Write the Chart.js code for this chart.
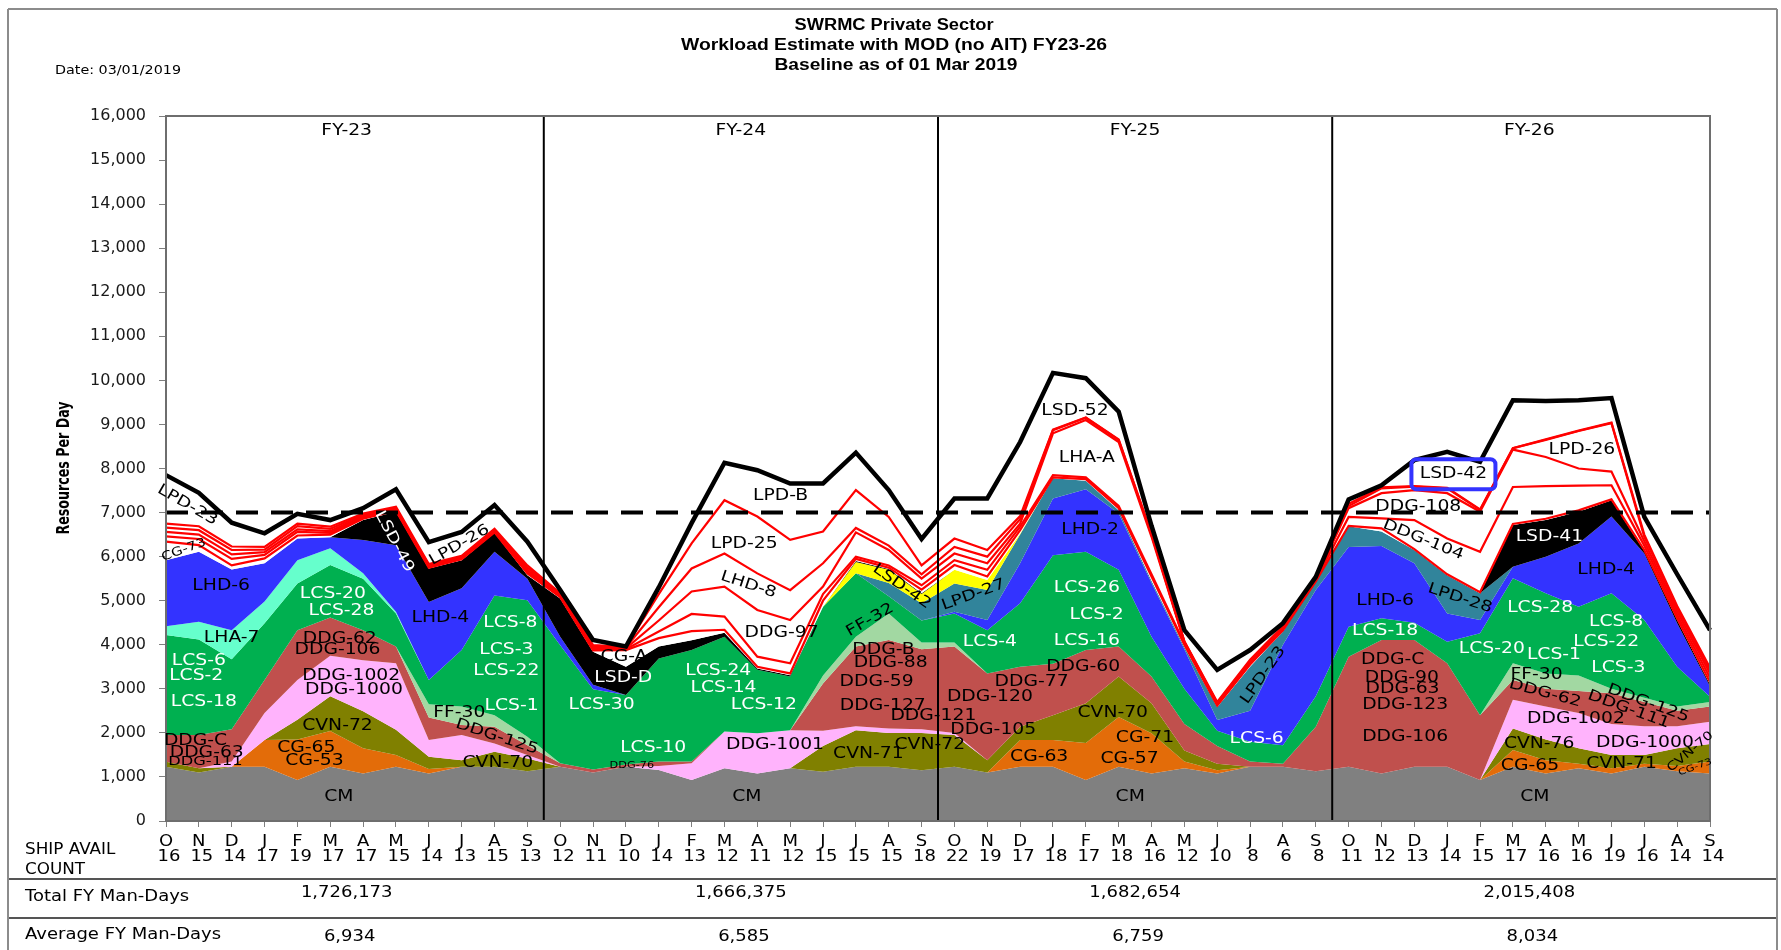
<!DOCTYPE html>
<html>
<head>
<meta charset="utf-8">
<script src="https://cdn.jsdelivr.net/npm/chart.js@4.4.1/dist/chart.umd.min.js"></script>
<style>
  html, body { margin: 0; padding: 0; background: #fff; }
  canvas { display: block; }
</style>
</head>
<body>
<canvas id="chart" width="1781" height="950"></canvas>
<script>
// categories
const months = ['O','N','D','J','F','M','A','M','J','J','A','S'];
const fiscalYears = ['FY-23','FY-24','FY-25','FY-26'];
const shipAvailCount = [16,15,14,17,19,17,17,15,14,13,15,13, 12,11,10,14,13,12,11,12,15,15,15,18,
                        22,19,17,18,17,18,16,12,10,8,6,8, 11,12,13,14,15,17,16,16,19,16,14,14];
const totalManDays = ['1,726,173','1,666,375','1,682,654','2,015,408'];
const averageManDays = ['6,934','6,585','6,759','8,034'];
const capacity = 7000;

// top edge of each band (resources per day), FY23..FY26
const cmTop   = [1230,1100,1230,1230,930,1230,1080,1230,1080,1230,1230,1130, 1230,1100,1230,1160,930,1200,1080,1200,1120,1230,1230,1150,
                 1230,1100,1230,1230,930,1230,1080,1200,1080,1230,1230,1130, 1230,1080,1230,1230,930,1230,1080,1200,1080,1230,1130,1080];
const cgTop   = [1230,1100,1230,1840,1850,2040,1650,1500,1180,1230,1230,1130, 1230,1100,1230,1160,930,1200,1080,1200,1120,1230,1230,1150,
                 1230,1100,1840,1840,1770,2360,1990,1350,1150,1230,1230,1130, 1230,1080,1230,1230,930,1610,1380,1300,1200,1300,1250,1350];
const cvnTop  = [1345,1200,1230,1840,2300,2830,2490,2070,1460,1380,1570,1420, 1230,1100,1230,1160,930,1200,1080,1200,1700,2060,2000,2000,
                 1950,1380,2140,2400,2670,3280,2670,1600,1300,1230,1230,1130, 1230,1080,1230,1230,930,2100,1850,1650,1500,1500,1650,1750];
const pinkTop = [1345,1200,1350,2450,3200,3750,3650,3580,1840,1950,1760,1500, 1230,1100,1230,1250,1310,2030,1990,2060,2050,2150,2100,2080,
                 2000,1380,2140,2400,2670,3280,2670,1600,1300,1230,1230,1130, 1230,1080,1230,1230,930,2750,2600,2450,2200,2150,2150,2250];
const ddgTop  = [1950,1950,2080,3200,4330,4620,4330,3960,2350,2180,2140,1720, 1310,1170,1280,1350,1350,2030,1990,2060,3120,3960,4110,3900,
                 3960,3350,3500,3570,3880,3960,3280,2200,1700,1350,1300,2140, 3730,4110,4110,3580,2400,3200,3000,2950,2900,2700,2500,2600];
const ffTop   = [1950,1950,2080,3200,4330,4620,4330,3960,2650,2600,2400,1910, 1310,1170,1280,1350,1350,2030,1990,2060,3300,4180,4710,4050,
                 4050,3350,3500,3570,3880,3960,3280,2200,1700,1350,1300,2140, 3730,4110,4110,3580,2400,3580,3350,3300,3000,2800,2600,2700];
const lcsTop  = [4220,4120,3670,4490,5390,5810,5500,4710,3200,3880,5120,5010, 3990,2990,2860,3690,3880,4180,3430,3280,4860,5620,5100,4550,
                 4710,4330,4940,6030,6110,5700,4180,3000,2050,1800,1720,2830, 4410,4600,4500,4070,4260,5510,5170,4860,5170,4560,3500,2820];
const lhaTop  = [4420,4520,4330,4980,5920,6190,5620,4750,3200,3880,5120,5010, 3990,2990,2860,3690,3880,4180,3430,3280,4860,5620,5100,4550,
                 4710,4330,4940,6030,6110,5700,4180,3000,2050,1800,1720,2830, 4410,4600,4500,4070,4260,5510,5170,4860,5170,4560,3500,2820];
const lhdTop  = [5920,6110,5710,5850,6410,6440,6380,6260,4970,5280,6110,5500, 4180,3090,2860,3690,3880,4180,3430,3280,4860,5620,5100,4550,
                 4750,4560,5850,7320,7530,6980,5400,3900,2290,2500,4000,5240, 6220,6240,5850,4710,4560,5770,6000,6300,6910,6070,4490,3050];
const lpdTop  = [5920,6110,5710,5850,6410,6440,6380,6260,4970,5280,6110,5500, 4180,3090,2860,3690,3880,4180,3430,3280,4860,5620,5400,4940,
                 5390,5240,6500,7780,7720,7050,5450,3950,2590,3500,4300,5470, 6690,6570,6150,5580,5170,5770,6000,6300,6910,6070,4490,3050];
const yelTop  = [5920,6110,5710,5850,6410,6440,6380,6260,4970,5280,6110,5500, 4180,3090,2860,3690,3880,4180,3430,3280,4860,5880,5700,5150,
                 5700,5470,6520,7780,7720,7050,5450,3950,2590,3500,4300,5470, 6690,6570,6150,5580,5170,5770,6000,6300,6910,6070,4490,3050];
const lsdTop  = [5920,6110,5710,5850,6410,6440,6830,7020,5730,5920,6540,5580, 5050,3840,3500,3960,4100,4270,3460,3310,4860,5900,5720,5170,
                 5700,5470,6520,7780,7720,7050,5450,3950,2590,3500,4300,5470, 6690,6570,6150,5580,5170,6720,6830,7020,7280,6130,4560,3100];
const w1Top   = [6340,6260,5800,5960,6480,6500,6860,7040,5750,5940,6550,5620, 5080,3870,3880,4150,4310,4340,3500,3350,5000,5950,5750,5250,
                 5810,5550,6600,7800,7760,7100,5550,4000,2620,3550,4330,5440, 6700,6640,6170,5600,5190,6740,6860,7050,7300,6150,4600,3150];
const w2Top   = [6460,6400,5950,6040,6560,6540,6890,7060,5770,5960,6570,5660, 5100,3900,3900,4300,4700,4640,3730,3580,5150,6000,5800,5350,
                 5920,5700,6680,7850,7800,7150,5600,4030,2640,3580,4360,5460, 6900,6870,6830,6410,6110,7580,7600,7610,7620,6250,4680,3250];
const w3Top   = [6560,6500,6050,6100,6620,6580,6920,7080,5790,5980,6590,5700, 5120,3930,3920,4550,5210,5320,4790,4560,5320,6550,6150,5500,
                 6070,5850,6750,8800,9100,8600,6450,4060,2660,3610,4390,5480, 7100,7440,7510,7440,7020,8430,8260,8000,7930,6350,4760,3350];
const w4Top   = [6660,6600,6150,6160,6690,6630,6950,7100,5810,6000,6610,5750, 5150,3960,3940,4850,5730,6070,5620,5240,5850,6650,6250,5600,
                 6220,6000,6850,8870,9150,8650,6500,4070,2680,3640,4410,5490, 7150,7550,7590,7550,7060,8460,8650,8850,9030,6450,4840,3420];
const w5Top   = [6750,6690,6230,6220,6750,6680,6980,7130,5830,6020,6630,5800, 5170,3990,3950,5150,6300,7280,6910,6380,6570,7510,6900,5800,
                 6410,6150,6920,8880,9160,8660,6520,4080,2700,3660,4420,5500, 7200,7570,7600,7560,7070,8460,8660,8860,9040,6500,4880,3480];
const totalTop= [7850,7450,6770,6530,6970,6830,7100,7530,6330,6560,7170,6340, 5240,4110,3960,5300,6760,8130,7960,7660,7660,8360,7510,6400,
                 7320,7320,8600,10170,10050,9290,6700,4330,3430,3880,4490,5540, 7300,7620,8190,8380,8150,9550,9530,9550,9600,6900,5600,4330];

// ship labels: text, month index, resources value, colour, rotation, size
const K = '#000', W = '#fff';
const areaLabels = [
  ['LPD-23',0.65,7170,K,30,15], ['CG-73',0.54,6150,K,-20,12], ['LHD-6',1.68,5330,K,0,15], ['LHA-7',2.0,4150,K,0,15],
  ['LCS-6',1.0,3640,W,0,15], ['LCS-2',0.92,3280,W,0,15], ['LCS-18',1.15,2690,W,0,15],
  ['DDG-C',0.9,1815,K,0,15], ['DDG-63',1.24,1550,K,0,15], ['DDG-111',1.2,1350,K,0,13],
  ['CG-65',4.27,1660,K,0,15], ['CG-53',4.52,1370,K,0,15], ['CVN-72',5.22,2160,K,0,15],
  ['DDG-1002',5.64,3280,K,0,15], ['DDG-1000',5.72,2960,K,0,15], ['DDG-62',5.29,4120,K,0,15], ['DDG-106',5.22,3880,K,0,15],
  ['LCS-20',5.08,5140,W,0,15], ['LCS-28',5.34,4770,W,0,15], ['LSD-49',6.95,6340,W,62,15], ['LHD-4',8.35,4600,K,0,15],
  ['LPD-26',8.93,6260,K,-30,15], ['FF-30',8.93,2440,K,0,15], ['DDG-125',10.07,1910,K,18,15], ['CVN-70',10.1,1320,K,0,15],
  ['LCS-8',10.48,4500,W,0,15], ['LCS-3',10.36,3880,W,0,15], ['LCS-22',10.36,3410,W,0,15], ['LCS-1',10.52,2610,W,0,15],
  ['CM',5.26,550,K,0,15],
  ['LPD-B',18.71,7380,K,0,15], ['LPD-25',17.6,6280,K,0,15], ['LHD-8',17.73,5360,K,18,15], ['DDG-97',18.74,4260,K,0,15],
  ['CG-A',13.94,3730,K,0,15], ['LSD-D',13.92,3250,W,0,15], ['LCS-30',13.26,2630,W,0,15], ['LCS-24',16.81,3410,W,0,15],
  ['LCS-14',16.97,3010,W,0,15], ['LCS-12',18.2,2630,W,0,15], ['LCS-10',14.83,1660,W,0,15], ['DDG-76',14.18,1250,K,0,9],
  ['DDG-1001',18.54,1720,K,0,15], ['CVN-71',21.38,1520,K,0,15], ['DDG-B',21.84,3880,K,0,15], ['DDG-88',22.06,3580,K,0,15],
  ['DDG-59',21.63,3150,K,0,15], ['DDG-127',21.82,2610,K,0,15], ['DDG-121',23.36,2370,K,0,15], ['CVN-72',23.25,1720,K,0,15],
  ['LSD-42',22.4,5320,K,35,15], ['FF-32',21.43,4560,K,-30,15], ['CM',17.68,540,K,0,15],
  ['LPD-27',24.58,5130,K,-20,15], ['LSD-52',27.67,9310,K,0,15], ['LHA-A',28.03,8230,K,0,15], ['LHD-2',28.13,6600,K,0,15],
  ['LCS-4',25.08,4070,W,0,15], ['LCS-26',28.03,5280,W,0,15], ['LCS-2',28.33,4670,W,0,15], ['LCS-16',28.03,4090,W,0,15],
  ['DDG-60',27.92,3490,K,0,15], ['DDG-77',26.35,3160,K,0,15], ['DDG-120',25.08,2810,K,0,15], ['DDG-105',25.18,2070,K,0,15],
  ['CVN-70',28.82,2440,K,0,15], ['CG-71',29.8,1880,K,0,15], ['CG-57',29.33,1400,K,0,15], ['CG-63',26.58,1460,K,0,15],
  ['LPD-23',33.4,3310,K,-55,15], ['LCS-6',33.2,1850,W,0,15], ['CM',29.35,540,K,0,15],
  ['LSD-42',39.19,7870,K,0,15], ['LPD-26',43.1,8420,K,0,15], ['DDG-108',38.12,7120,K,0,15], ['DDG-104',38.27,6380,K,22,15],
  ['LSD-41',42.11,6450,W,0,15], ['LHD-4',43.84,5700,K,0,15], ['LHD-6',37.11,4980,K,0,15], ['LPD-28',39.39,5050,K,18,15],
  ['LCS-18',37.11,4300,W,0,15], ['LCS-28',41.83,4830,W,0,15], ['LCS-8',44.14,4520,W,0,15], ['LCS-22',43.84,4070,W,0,15],
  ['LCS-20',40.36,3900,W,0,15], ['LCS-1',42.25,3770,W,0,15], ['LCS-3',44.21,3460,W,0,15], ['FF-30',41.72,3310,K,0,15],
  ['DDG-C',37.34,3650,K,0,15], ['DDG-90',37.62,3250,K,0,15], ['DDG-63',37.64,2990,K,0,15], ['DDG-123',37.72,2630,K,0,15],
  ['DDG-106',37.72,1900,K,0,15], ['DDG-62',41.98,2900,K,15,15], ['DDG-111',44.52,2530,K,20,15], ['DDG-125',45.12,2670,K,20,15],
  ['DDG-1002',42.92,2310,K,0,15], ['DDG-1000',45.02,1760,K,0,15], ['CVN-76',41.8,1750,K,0,15], ['CVN-71',44.31,1290,K,0,15],
  ['CG-65',41.52,1250,K,0,15], ['CVN-70',46.4,1570,K,-40,12], ['CG-73',46.55,1220,K,-20,9], ['CM',41.67,550,K,0,15]
];

const monthLabels = [];
fiscalYears.forEach(() => months.forEach(m => monthLabels.push(m)));

const RED = '#ff0000';
const layers = [
  { name: 'CM', data: cmTop, color: '#808080' },
  { name: 'CG', data: cgTop, color: '#e36c09' },
  { name: 'CVN', data: cvnTop, color: '#808000' },
  { name: 'DDG-1000', data: pinkTop, color: '#ffb3fc' },
  { name: 'DDG', data: ddgTop, color: '#c0504d' },
  { name: 'FF', data: ffTop, color: '#a2d8a2' },
  { name: 'LCS', data: lcsTop, color: '#00b050' },
  { name: 'LHA', data: lhaTop, color: '#66ffcc' },
  { name: 'LHD', data: lhdTop, color: '#3333ff' },
  { name: 'LPD', data: lpdTop, color: '#31849b' },
  { name: 'LSD (y)', data: yelTop, color: '#ffff00' },
  { name: 'LSD', data: lsdTop, color: '#000000' },
  { name: 'W1', data: w1Top, color: '#ffffff', line: RED, width: 2.2 },
  { name: 'W2', data: w2Top, color: '#ffffff', line: RED, width: 2.2 },
  { name: 'W3', data: w3Top, color: '#ffffff', line: RED, width: 2.2 },
  { name: 'W4', data: w4Top, color: '#ffffff', line: RED, width: 2.2 },
  { name: 'W5', data: w5Top, color: '#ffffff', line: RED, width: 2.2 },
  { name: 'Total', data: totalTop, color: '#ffffff', line: '#000000', width: 4.5 }
];

const datasets = layers.map((l, i) => ({
  label: l.name,
  data: l.data,
  fill: i === 0 ? 'origin' : '-1',
  backgroundColor: l.color,
  borderColor: l.line || 'rgba(0,0,0,0)',
  borderWidth: l.width || 0,
  pointRadius: 0,
  tension: 0,
  order: layers.length - i
}));
datasets.push({
  label: 'Capacity',
  data: monthLabels.map(() => capacity),
  fill: false,
  borderColor: '#000',
  borderWidth: 4,
  borderDash: [22, 13],
  pointRadius: 0,
  order: -1
});

const DV = '"DejaVu Sans", Verdana, sans-serif';
function txt(ctx, s, x, y, font, color, align, rot, sx) {
  ctx.save();
  ctx.translate(x, y);
  if (rot) ctx.rotate(rot * Math.PI / 180);
  ctx.scale(sx || 1, 1);
  ctx.font = font;
  ctx.fillStyle = color;
  ctx.textAlign = align || 'center';
  ctx.textBaseline = 'middle';
  ctx.fillText(s, 0, 0);
  ctx.restore();
}
// text squeezed/stretched to a given width
function fitTxt(ctx, s, x, y, font, color, width, rot) {
  ctx.save();
  ctx.font = font;
  const w = ctx.measureText(s).width;
  ctx.restore();
  txt(ctx, s, x, y, font, color, 'center', rot, width / w);
}
function hline(ctx, x1, x2, yy) {
  ctx.beginPath(); ctx.moveTo(x1, yy); ctx.lineTo(x2, yy); ctx.stroke();
}

const decor = {
  id: 'decor',
  beforeDraw(chart) {
    const ctx = chart.ctx;
    ctx.save();
    ctx.fillStyle = '#fff';
    ctx.fillRect(0, 0, chart.width, chart.height);
    ctx.restore();
  },
  afterDatasetsDraw(chart) {
    const { ctx, chartArea: a, scales: { x, y } } = chart;
    ctx.save();
    // fiscal year separators
    ctx.strokeStyle = '#000';
    ctx.lineWidth = 2;
    [11.5, 23.5, 35.5].forEach(v => {
      const px = x.getPixelForValue(v);
      ctx.beginPath(); ctx.moveTo(px, a.top); ctx.lineTo(px, a.bottom); ctx.stroke();
    });
    ctx.strokeStyle = '#6e6e6e';
    ctx.strokeRect(a.left, a.top, a.right - a.left, a.bottom - a.top);
    fiscalYears.forEach((fy, k) => {
      txt(ctx, fy, x.getPixelForValue(k * 12 + 5.5), y.getPixelForValue(15650), '15px ' + DV, '#000', 'center', 0, 1.25);
    });
    areaLabels.forEach(([s, i, v, c, r, sz]) => {
      txt(ctx, s, x.getPixelForValue(i), y.getPixelForValue(v), sz + 'px ' + DV, c, 'center', r, 1.25);
    });
    // highlighted LSD-42 box in FY-26
    const bx = x.getPixelForValue(39.19), by = y.getPixelForValue(7870);
    ctx.strokeStyle = '#3333ff';
    ctx.lineWidth = 4;
    ctx.beginPath();
    ctx.roundRect(bx - 42, by - 15, 84, 30, 5);
    ctx.stroke();
    ctx.restore();
  },
  afterDraw(chart) {
    const { ctx, scales: { x } } = chart;
    ctx.save();
    // titles
    fitTxt(ctx, 'SWRMC Private Sector', 894, 26, 'bold 16px "Liberation Sans", Arial, sans-serif', '#000', 199);
    fitTxt(ctx, 'Workload Estimate with MOD (no AIT) FY23-26', 894, 46, 'bold 16px "Liberation Sans", Arial, sans-serif', '#000', 426);
    fitTxt(ctx, 'Baseline as of 01 Mar 2019', 896, 66, 'bold 16px "Liberation Sans", Arial, sans-serif', '#000', 243);
    fitTxt(ctx, 'Date: 03/01/2019', 118, 71, '12px ' + DV, '#000', 126);
    fitTxt(ctx, 'Resources Per Day', 65, 468, 'bold 17px "Liberation Sans Narrow", "DejaVu Sans Condensed", sans-serif', '#000', 133, -90);
    // month / ship count rows
    monthLabels.forEach((m, i) => {
      const px = x.getPixelForValue(i);
      txt(ctx, m, px, 842, '15px ' + DV, '#000', 'center', 0, 1.2);
      txt(ctx, String(shipAvailCount[i]), px + 3, 857, '15px ' + DV, '#000', 'center', 0, 1.2);
    });
    txt(ctx, 'SHIP AVAIL', 25, 850, '15px ' + DV, '#000', 'left', 0, 1.12);
    txt(ctx, 'COUNT', 25, 870, '15px ' + DV, '#000', 'left', 0, 1.12);
    txt(ctx, 'Total FY Man-Days', 25, 897, '15px ' + DV, '#000', 'left', 0, 1.2);
    txt(ctx, 'Average FY Man-Days', 25, 935, '15px ' + DV, '#000', 'left', 0, 1.2);
    fiscalYears.forEach((fy, k) => {
      const px = x.getPixelForValue(k * 12 + 5.5);
      txt(ctx, totalManDays[k], px, 893, '15px ' + DV, '#000', 'center', 0, 1.2);
      txt(ctx, averageManDays[k], px + 3, 937, '15px ' + DV, '#000', 'center', 0, 1.2);
    });
    // frame and table rules
    ctx.strokeStyle = '#555';
    ctx.lineWidth = 2;
    hline(ctx, 8, 1777, 879);
    hline(ctx, 8, 1777, 918);
    ctx.strokeStyle = '#8c8c8c';
    hline(ctx, 8, 1777, 9);
    ctx.beginPath(); ctx.moveTo(8, 9); ctx.lineTo(8, 950); ctx.stroke();
    ctx.beginPath(); ctx.moveTo(1777, 9); ctx.lineTo(1777, 950); ctx.stroke();
    ctx.restore();
  }
};

new Chart(document.getElementById('chart'), {
  type: 'line',
  data: { labels: monthLabels, datasets: datasets },
  options: {
    responsive: false,
    animation: false,
    layout: { padding: { top: 116, right: 71, left: 0, bottom: 0 } },
    plugins: {
      legend: { display: false },
      tooltip: { enabled: false },
      filler: { drawTime: 'beforeDatasetsDraw', propagate: false }
    },
    scales: {
      x: {
        type: 'category',
        offset: false,
        grid: { drawOnChartArea: false, drawTicks: true, tickLength: 6, color: '#7f7f7f' },
        border: { display: true, color: '#7f7f7f', width: 2 },
        ticks: { color: 'rgba(0,0,0,0)', autoSkip: false, maxRotation: 0, minRotation: 0 },
        afterFit(scale) { scale.height = 129; }
      },
      y: {
        min: 0,
        max: 16000,
        grid: { drawOnChartArea: false, drawTicks: true, tickLength: 7, color: '#7f7f7f' },
        border: { display: true, color: '#7f7f7f', width: 2 },
        ticks: {
          stepSize: 1000,
          padding: 13,
          color: '#1a1a1a',
          font: { family: '"DejaVu Sans", Verdana, sans-serif', size: 16 },
          callback: v => v.toLocaleString('en-US')
        },
        afterFit(scale) { scale.width = 166; }
      }
    }
  },
  plugins: [decor]
});
</script>
</body>
</html>
